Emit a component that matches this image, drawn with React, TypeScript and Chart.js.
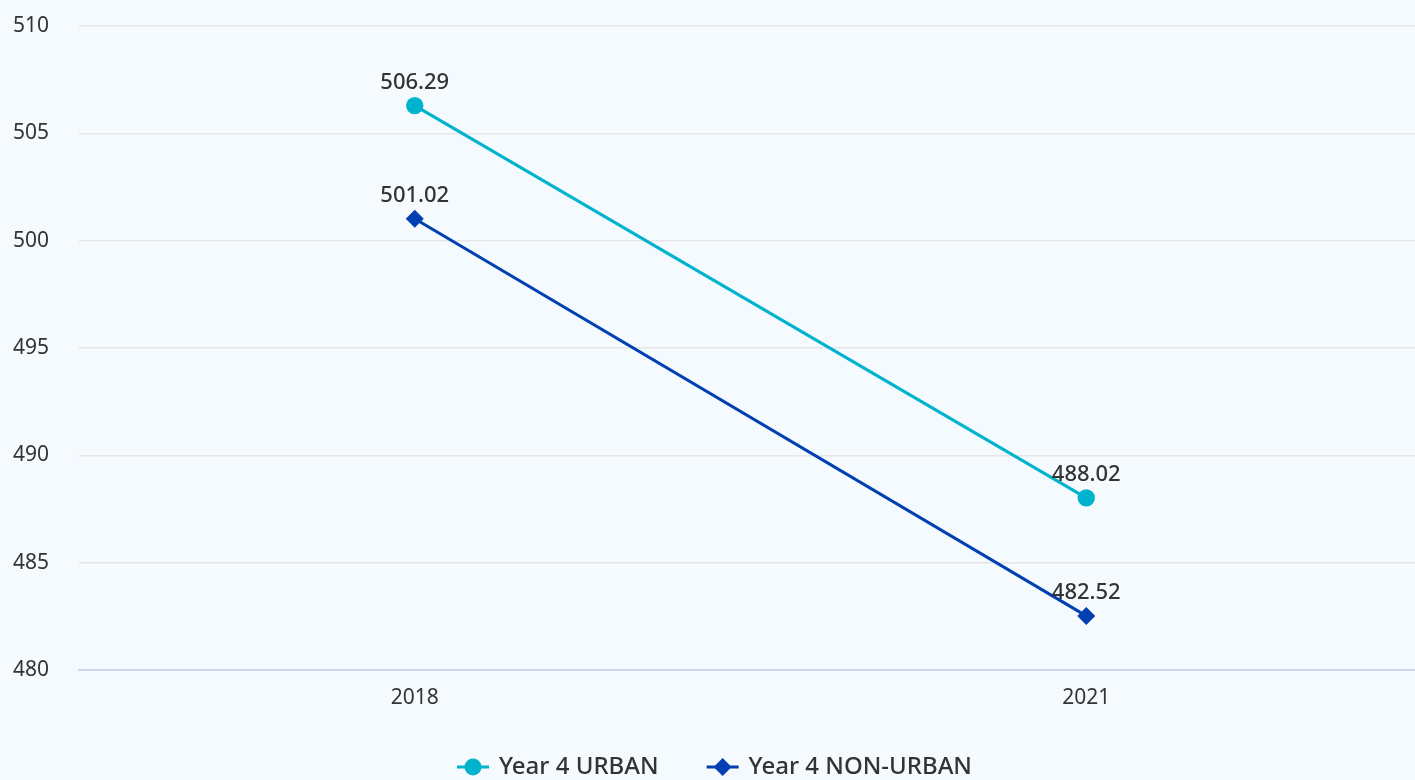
import React, { useEffect, useRef } from "react";
import { Chart, registerables } from "chart.js";

Chart.register(...registerables);

const categories = ["2018", "2021"];
const urbanValues = [506.29, 488.02];
const nonUrbanValues = [501.02, 482.52];
const seriesNames = ["Year 4 URBAN", "Year 4 NON-URBAN"];
const yTicks = [480, 485, 490, 495, 500, 505, 510];

const URBAN = "#00b3cc";
const NONURBAN = "#0040b0";
const FONT = "'Noto Sans', 'Open Sans', sans-serif";
const VIEW_W = 1415;

const dataLabels = {
  id: "dataLabels",
  afterDatasetsDraw(chart: any) {
    const ctx = chart.ctx;
    ctx.save();
    ctx.font = `500 22px ${FONT}`;
    ctx.fillStyle = "#333333";
    ctx.textAlign = "center";
    ctx.textBaseline = "alphabetic";
    chart.data.datasets.forEach((ds: any, i: number) => {
      const meta = chart.getDatasetMeta(i);
      meta.data.forEach((pt: any, j: number) => {
        ctx.fillText(ds.data[j].toFixed(2), pt.x, pt.y - 17);
      });
    });
    ctx.restore();
  },
};

// Legend with line + marker symbols, drawn from the datasets
const lineLegend = {
  id: "lineLegend",
  afterDraw(chart: any) {
    const ctx = chart.ctx;
    const ds = chart.data.datasets;
    const y = 767;
    const iconW = 32;
    const iconGap = 10;
    const itemGap = 48;
    ctx.save();
    ctx.font = `500 24px ${FONT}`;
    const widths = ds.map((d: any) => iconW + iconGap + ctx.measureText(d.label).width);
    const total = widths.reduce((a: number, b: number) => a + b, 0) + itemGap * (ds.length - 1);
    let x = VIEW_W / 2 + 7 - total / 2;
    ds.forEach((d: any, i: number) => {
      ctx.strokeStyle = d.borderColor;
      ctx.fillStyle = d.backgroundColor;
      ctx.lineWidth = 3;
      ctx.beginPath();
      ctx.moveTo(x, y);
      ctx.lineTo(x + iconW, y);
      ctx.stroke();
      const cx = x + iconW / 2;
      ctx.beginPath();
      if (d.pointStyle === "circle") {
        ctx.arc(cx, y, 8.5, 0, Math.PI * 2);
      } else {
        ctx.moveTo(cx, y - 9);
        ctx.lineTo(cx + 9, y);
        ctx.lineTo(cx, y + 9);
        ctx.lineTo(cx - 9, y);
        ctx.closePath();
      }
      ctx.fill();
      ctx.fillStyle = "#333333";
      ctx.textAlign = "left";
      ctx.textBaseline = "middle";
      ctx.fillText(d.label, x + iconW + iconGap, y);
      x += widths[i] + itemGap;
    });
    ctx.restore();
  },
};

export default function App() {
  const ref = useRef<HTMLCanvasElement>(null);
  useEffect(() => {
    if (!ref.current) return;
    const chart = new Chart(ref.current, {
      type: "line",
      data: {
        labels: categories,
        datasets: [
          {
            label: seriesNames[0],
            data: urbanValues,
            borderColor: URBAN,
            backgroundColor: URBAN,
            borderWidth: 3,
            pointStyle: "circle",
            pointRadius: 8.7,
            pointHoverRadius: 8.7,
            pointBorderWidth: 0,
          },
          {
            label: seriesNames[1],
            data: nonUrbanValues,
            borderColor: NONURBAN,
            backgroundColor: NONURBAN,
            borderWidth: 3,
            pointStyle: "rectRot",
            pointRadius: 9,
            pointHoverRadius: 9,
            pointBorderWidth: 0,
          },
        ],
      },
      options: {
        animation: false,
        responsive: false,
        maintainAspectRatio: false,
        layout: { padding: { left: 10, right: 0, top: 26, bottom: 0 } },
        scales: {
          x: {
            offset: true,
            grid: { display: false, drawTicks: false },
            border: { display: true, color: "#ccd6eb", width: 2 },
            ticks: { color: "#333333", font: { family: FONT, size: 21 }, padding: 15 },
            afterFit: (axis: any) => {
              axis.height = 110;
              axis.paddingLeft = 0;
              axis.paddingRight = 0;
            },
          },
          y: {
            min: 480,
            max: 510,
            afterBuildTicks: (axis: any) => {
              axis.ticks = yTicks.map((v) => ({ value: v }));
            },
            afterFit: (axis: any) => {
              axis.width = 69;
              axis.paddingTop = 0;
              axis.paddingBottom = 0;
            },
            grid: { color: "#e6e6e6", lineWidth: 1.5, drawTicks: false },
            border: { display: false },
            ticks: { color: "#333333", font: { family: FONT, size: 21 }, padding: 30 },
          },
        },
        plugins: {
          tooltip: { enabled: false },
          legend: { display: false },
        },
      } as any,
      plugins: [dataLabels, lineLegend],
    });
    return () => chart.destroy();
  }, []);
  return (
    <div style={{ position: "fixed", left: 0, top: 0, width: VIEW_W, height: 780, overflow: "hidden", background: "#f5faff" }}>
      <canvas ref={ref} width={1431} height={780} style={{ display: "block" }} />
    </div>
  );
}
